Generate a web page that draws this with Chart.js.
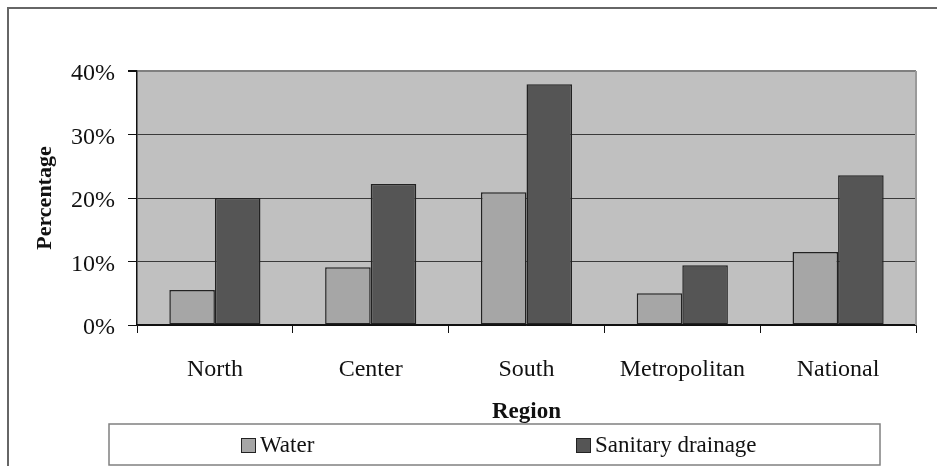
<!DOCTYPE html>
<html>
<head>
<meta charset="utf-8">
<script src="https://cdn.jsdelivr.net/npm/chart.js@4/dist/chart.umd.min.js"></script>
<style>
  html, body { margin: 0; padding: 0; background: #ffffff; }
  #wrap { width: 937px; height: 466px; position: relative; }
</style>
</head>
<body>
<div id="wrap"><canvas id="c"></canvas></div>
<script>
const regions = ['North', 'Center', 'South', 'Metropolitan', 'National'];
const water = [5.5, 9.1, 20.9, 5.0, 11.5];
const sanitary = [20.0, 22.2, 37.9, 9.4, 23.6];
const seriesNames = ['Water', 'Sanitary drainage'];
const yTickValues = [0, 10, 20, 30, 40];
const xTitle = 'Region';
const yTitle = 'Percentage';

const SERIF = '"Liberation Serif", "Times New Roman", serif';

const decor = {
  id: 'decor',
  beforeDraw(chart) {
    const { ctx, chartArea: a } = chart;
    ctx.save();
    ctx.fillStyle = '#c0c0c0';
    ctx.fillRect(a.left, a.top, a.right - a.left, a.bottom - a.top);
    // outer frame
    ctx.strokeStyle = '#666666';
    ctx.lineWidth = 2;
    ctx.beginPath();
    ctx.moveTo(8, 470);
    ctx.lineTo(8, 8);
    ctx.lineTo(940, 8);
    ctx.stroke();
    ctx.restore();
  },
  afterDraw(chart) {
    const { ctx, chartArea: a } = chart;
    ctx.save();
    // right plot border
    ctx.strokeStyle = '#9a9a9a';
    ctx.lineWidth = 2;
    ctx.beginPath();
    ctx.moveTo(a.right, a.top);
    ctx.lineTo(a.right, a.bottom);
    ctx.stroke();
    // legend box
    const lx = 109, ly = 424, lw = 771, lh = 41;
    ctx.strokeStyle = '#808080';
    ctx.lineWidth = 1.5;
    ctx.strokeRect(lx, ly, lw, lh);
    const swatchX = [241, 576];
    ctx.font = '23px ' + SERIF;
    ctx.textBaseline = 'middle';
    ctx.textAlign = 'left';
    chart.data.datasets.forEach((ds, i) => {
      const sx = swatchX[i];
      ctx.fillStyle = ds.backgroundColor;
      ctx.fillRect(sx, 438, 14, 14);
      ctx.strokeStyle = '#222222';
      ctx.lineWidth = 1;
      ctx.strokeRect(sx + 0.5, 438.5, 14, 14);
      ctx.fillStyle = '#111111';
      ctx.fillText(ds.label, sx + 19, 446);
    });
    ctx.restore();
  }
};

new Chart(document.getElementById('c'), {
  type: 'bar',
  data: {
    labels: regions,
    datasets: [
      { label: seriesNames[0], data: water, backgroundColor: '#a6a6a6', borderColor: '#222222', borderWidth: 1.5, borderSkipped: false },
      { label: seriesNames[1], data: sanitary, backgroundColor: '#555555', borderColor: '#222222', borderWidth: 1.5, borderSkipped: false }
    ]
  },
  options: {
    responsive: true,
    maintainAspectRatio: false,
    animation: false,
    devicePixelRatio: 1,
    layout: { padding: { left: 0, top: 71, right: 21, bottom: 40 } },
    datasets: { bar: { categoryPercentage: 0.585, barPercentage: 1.0 } },
    plugins: { legend: { display: false }, tooltip: { enabled: false }, title: { display: false } },
    scales: {
      x: {
        grid: { display: true, drawOnChartArea: false, drawTicks: true, tickLength: 8, offset: true, color: '#111111', tickColor: '#111111' },
        border: { display: true, color: '#111111', width: 1.5 },
        ticks: { color: '#111111', padding: 22, font: { family: SERIF, size: 24 }, maxRotation: 0, autoSkip: false },
        title: { display: true, text: xTitle, color: '#111111', font: { family: SERIF, size: 23, weight: 'bold', lineHeight: 1 }, padding: { top: 0, bottom: 2 } },
        afterFit(scale) { scale.height = 101; }
      },
      y: {
        min: 0, max: 40,
        afterBuildTicks(scale) { scale.ticks = yTickValues.map(v => ({ value: v })); },
        grid: {
          drawTicks: true, tickLength: 9,
          color: ctx => (ctx.tick && ctx.tick.value === 40 ? '#808080' : (ctx.tick && ctx.tick.value === 0 ? '#111111' : '#3a3a3a')),
          lineWidth: ctx => (ctx.tick && ctx.tick.value === 40 ? 2 : 1),
          tickColor: '#111111'
        },
        border: { display: true, color: '#111111', width: 1.5 },
        ticks: { color: '#111111', padding: 13, labelOffset: 3, font: { family: SERIF, size: 24 }, callback: v => v + '%' },
        title: { display: true, text: yTitle, color: '#111111', font: { family: SERIF, size: 22, weight: 'bold', lineHeight: 1 }, padding: { top: 34, bottom: 0 } },
        afterFit(scale) { scale.width = 137; }
      }
    }
  },
  plugins: [decor]
});
</script>
</body>
</html>
